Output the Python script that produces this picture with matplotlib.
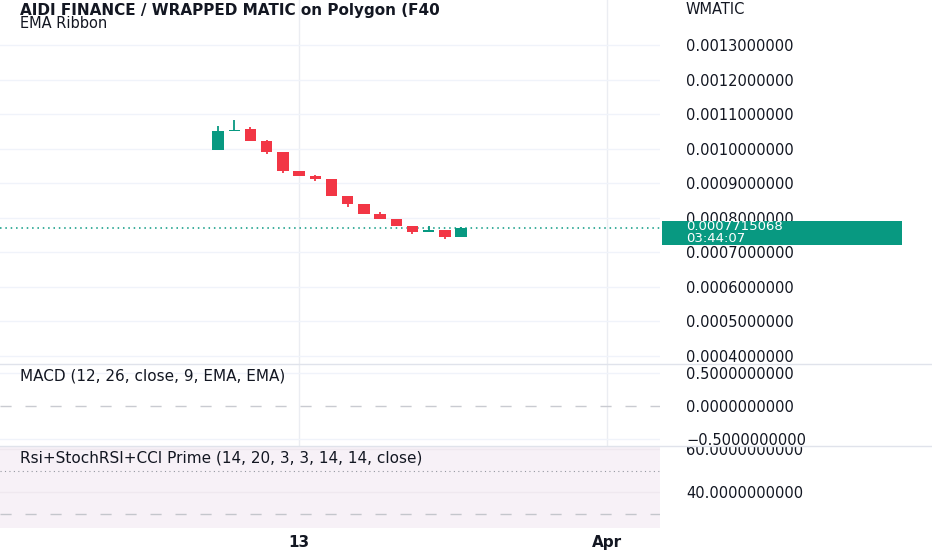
import matplotlib
matplotlib.use("Agg")
import matplotlib.pyplot as plt
import matplotlib.dates as mdates
from matplotlib.lines import Line2D
from matplotlib.patches import Rectangle
from matplotlib.transforms import (blended_transform_factory, ScaledTranslation,
                                   Bbox, TransformedBbox)
import datetime as dt
import numpy as np

# ---------------- data ----------------
dates = ["2023-03-08", "2023-03-09", "2023-03-10", "2023-03-11", "2023-03-12",
         "2023-03-13", "2023-03-14", "2023-03-15", "2023-03-16", "2023-03-17",
         "2023-03-18", "2023-03-19", "2023-03-20", "2023-03-21", "2023-03-22",
         "2023-03-23"]
opens = [0.000995, 0.001050, 0.001057, 0.001023, 0.000989, 0.000935, 0.000921,
         0.000912, 0.000862, 0.000839, 0.000811, 0.000797, 0.000777, 0.000759,
         0.000766, 0.000743]
highs = [0.001067, 0.001084, 0.001063, 0.001026, 0.000990, 0.000936, 0.000925,
         0.000912, 0.000862, 0.000839, 0.000817, 0.000797, 0.000777, 0.000776,
         0.000766, 0.000772]
lows = [0.000995, 0.001050, 0.001023, 0.000985, 0.000931, 0.000920, 0.000907,
        0.000862, 0.000831, 0.000810, 0.000797, 0.000776, 0.000754, 0.000759,
        0.000738, 0.000743]
closes = [0.001050, 0.001054, 0.001023, 0.000989, 0.000934, 0.000921, 0.000912,
          0.000862, 0.000839, 0.000812, 0.000797, 0.000777, 0.000759, 0.000766,
          0.000743, 0.0007715068]

last_price_label = "0.0007715068"
countdown_label = "03:44:07"

price_ticks = [0.0004, 0.0005, 0.0006, 0.0007, 0.0008, 0.0009, 0.0010, 0.0011, 0.0012, 0.0013]
macd_ticks = [-0.5, 0.0, 0.5]
macd_tick_labels = ["\u22120.5000000000", "0.0000000000", "0.5000000000"]
rsi_ticks = [40, 60]
rsi_tick_labels = ["40.0000000000", "60.0000000000"]
rsi_mid = 50
rsi_low = 30

x_tick_dates = ["2023-03-13", "2023-04-01"]
x_tick_labels = ["13", "Apr"]

title = "AIDI FINANCE / WRAPPED MATIC on Polygon (F40"
subtitle = "EMA Ribbon"
currency = "WMATIC"
macd_title = "MACD (12, 26, close, 9, EMA, EMA)"
rsi_title = "Rsi+StochRSI+CCI Prime (14, 20, 3, 3, 14, 14, close)"

# ---------------- style ----------------
UP = "#089981"
DOWN = "#f23645"
TXT = "#131722"
GRID = "#f0f3fa"
SEP = "#e0e3eb"
FS = 10.5
plt.rcParams['font.family'] = ['DejaVu Sans']

W, H = 932, 550
fig = plt.figure(figsize=(W / 100, H / 100), dpi=100)
fig.patch.set_facecolor("white")

def frac_rect(x0, y0, x1, y1):
    return [x0 / W, 1 - y1 / H, (x1 - x0) / W, (y1 - y0) / H]

ax = fig.add_axes(frac_rect(0, 0, 660, 364))
axm = fig.add_axes(frac_rect(0, 364, 660, 446), sharex=ax)
axr = fig.add_axes(frac_rect(0, 446, 660, 528), sharex=ax)

xd = mdates.date2num([dt.datetime.strptime(d, "%Y-%m-%d") for d in dates])
xt = mdates.date2num([dt.datetime.strptime(d, "%Y-%m-%d") for d in x_tick_dates])

o = np.array(opens); c = np.array(closes); h = np.array(highs); l = np.array(lows)
cols = [UP if cc >= oo else DOWN for oo, cc in zip(o, c)]

for a in (ax, axm, axr):
    for s in a.spines.values():
        s.set_visible(False)
    a.set_facecolor("none")
    a.tick_params(axis="both", length=0)
    for xv in xt:
        a.axvline(xv, color="#ebedf2", lw=1.0, zorder=0)

# candles
ax.vlines(xd, l, h, colors=cols, lw=1.3, zorder=2)
ax.bar(xd, np.abs(c - o), bottom=np.minimum(o, c), width=0.7, color=cols,
       zorder=3, linewidth=0)
ax.axhline(c[-1], color=UP, lw=1.1, ls=(0, (1, 2.5)), zorder=1)

for yv in price_ticks:
    ax.axhline(yv, color=GRID, lw=1.0, zorder=0)

ax.set_xlim(xt[0] - 18.46, xt[0] + 22.28)
ax.set_ylim(0.0003768, 0.0014304)
ax.yaxis.tick_right()
ax.set_yticks(price_ticks)
ax.set_yticklabels([f"{v:.10f}" for v in price_ticks], fontsize=FS, color=TXT)
ax.tick_params(axis="y", pad=19)
ax.tick_params(axis="x", labelbottom=False)

# last price box
bt = blended_transform_factory(ax.transAxes, ax.transData)
ax.add_patch(Rectangle((662 / 660, c[-1] - 0.0000492), 240 / 660, 0.0000674,
                       transform=bt, facecolor=UP, edgecolor="none",
                       clip_on=False, zorder=5))
ax.text(686 / 660, c[-1], last_price_label + "\n" + countdown_label,
        transform=bt + ScaledTranslation(0, -0.05, fig.dpi_scale_trans),
        color="white", fontsize=9.5, va="center", ha="left", zorder=6,
        clip_on=False, linespacing=0.95)

# titles
ax.text(20 / 660, 1 - 10 / 364, title, transform=ax.transAxes, fontsize=11,
        fontweight="bold", color=TXT, va="center", ha="left", clip_on=True)
ax.text(20 / 660, 1 - 24 / 364, subtitle, transform=ax.transAxes, fontsize=10.5,
        color=TXT, va="center", ha="left")
fig.text(686 / W, 1 - 10 / H, currency, fontsize=FS, color=TXT, va="center", ha="left")

# MACD pane
axm.set_ylim(-0.611, 0.632)
axm.axhline(0, color="#c9cbd1", lw=1.0, ls=(0, (8, 10)))
for yv in (0.5, -0.5):
    axm.axhline(yv, color=GRID, lw=1.0, zorder=0)
axm.yaxis.tick_right()
axm.set_yticks(macd_ticks)
axm.set_yticklabels(macd_tick_labels, fontsize=FS, color=TXT)
axm.tick_params(axis="y", pad=19)
axm.tick_params(axis="x", labelbottom=False)
axm.text(20 / 660, 1 - 12 / 82, macd_title, transform=axm.transAxes, fontsize=11,
         color=TXT, va="center", ha="left")

# RSI pane
axr.set_ylim(23.5, 61.4)
axr.axhspan(23.5, 61.4, color="#f7f1f7", zorder=0, lw=0)
for yv in rsi_ticks:
    axr.axhline(yv, color="#efe8ef", lw=1.0, zorder=0.5)
axr.axhline(rsi_mid, color="#9598a1", lw=0.8, ls=(0, (1, 3)))
axr.axhline(rsi_low, color="#c4c6cc", lw=1.0, ls=(0, (8, 10)))
axr.yaxis.tick_right()
axr.set_yticks(rsi_ticks)
axr.set_yticklabels(rsi_tick_labels, fontsize=FS, color=TXT)
axr.tick_params(axis="y", pad=19)
clipbox = TransformedBbox(Bbox([[0, 22 / H], [1, 104 / H]]), fig.transFigure)
for t in axr.yaxis.get_major_ticks():
    t.label2.set_clip_on(True)
    t.label2.set_clip_box(clipbox)
axr.set_xticks(xt)
axr.set_xticklabels(x_tick_labels, fontsize=11, fontweight="bold", color=TXT)
axr.tick_params(axis="x", pad=5)
axr.text(20 / 660, 1 - 12 / 82, rsi_title, transform=axr.transAxes, fontsize=11,
         color=TXT, va="center", ha="left")

# pane separators
for yp in (364, 446):
    fig.add_artist(Line2D([0, 1], [1 - yp / H, 1 - yp / H], transform=fig.transFigure,
                          color=SEP, lw=1.0))

fig.savefig("out.png", dpi=100, facecolor="white")
